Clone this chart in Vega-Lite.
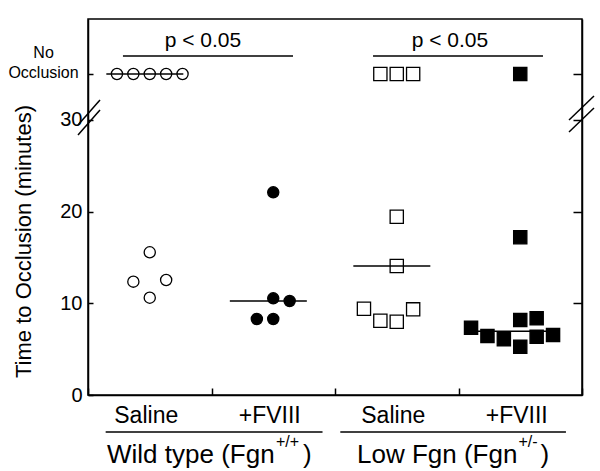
{
  "$schema": "https://vega.github.io/schema/vega-lite/v6.json",
  "width": 494,
  "height": 376,
  "autosize": {"type": "none"},
  "padding": {"left": 88, "top": 19, "right": 18, "bottom": 76},
  "background": "white",
  "config": {
    "view": {"stroke": "black", "strokeWidth": 1.5},
    "font": "Liberation Sans",
    "axis": {"domainColor": "black", "tickColor": "black", "labelColor": "black", "titleColor": "black", "domainWidth": 1.5, "tickWidth": 1.5, "grid": false, "labelFont": "Liberation Sans", "titleFont": "Liberation Sans"},
    "text": {"font": "Liberation Sans", "color": "black"}
  },
  "data": {"values": [
    {"cond": "WT|Saline", "geno": "WT", "treat": "Saline", "value": 35, "slot": -2},
    {"cond": "WT|Saline", "geno": "WT", "treat": "Saline", "value": 35, "slot": -1},
    {"cond": "WT|Saline", "geno": "WT", "treat": "Saline", "value": 35, "slot": 0},
    {"cond": "WT|Saline", "geno": "WT", "treat": "Saline", "value": 35, "slot": 1},
    {"cond": "WT|Saline", "geno": "WT", "treat": "Saline", "value": 35, "slot": 2},
    {"cond": "WT|Saline", "geno": "WT", "treat": "Saline", "value": 15.56, "slot": 0},
    {"cond": "WT|Saline", "geno": "WT", "treat": "Saline", "value": 12.36, "slot": -1},
    {"cond": "WT|Saline", "geno": "WT", "treat": "Saline", "value": 12.54, "slot": 1},
    {"cond": "WT|Saline", "geno": "WT", "treat": "Saline", "value": 10.61, "slot": 0},
    {"cond": "WT|+FVIII", "geno": "WT", "treat": "+FVIII", "value": 22.1, "slot": 0},
    {"cond": "WT|+FVIII", "geno": "WT", "treat": "+FVIII", "value": 10.54, "slot": 0},
    {"cond": "WT|+FVIII", "geno": "WT", "treat": "+FVIII", "value": 10.25, "slot": 1},
    {"cond": "WT|+FVIII", "geno": "WT", "treat": "+FVIII", "value": 8.29, "slot": -1},
    {"cond": "WT|+FVIII", "geno": "WT", "treat": "+FVIII", "value": 8.29, "slot": 0},
    {"cond": "LF|Saline", "geno": "LF", "treat": "Saline", "value": 35, "slot": -1},
    {"cond": "LF|Saline", "geno": "LF", "treat": "Saline", "value": 35, "slot": 0},
    {"cond": "LF|Saline", "geno": "LF", "treat": "Saline", "value": 35, "slot": 1},
    {"cond": "LF|Saline", "geno": "LF", "treat": "Saline", "value": 19.44, "slot": 0},
    {"cond": "LF|Saline", "geno": "LF", "treat": "Saline", "value": 14.07, "slot": 0},
    {"cond": "LF|Saline", "geno": "LF", "treat": "Saline", "value": 9.41, "slot": -2},
    {"cond": "LF|Saline", "geno": "LF", "treat": "Saline", "value": 8.1, "slot": -1},
    {"cond": "LF|Saline", "geno": "LF", "treat": "Saline", "value": 7.99, "slot": 0},
    {"cond": "LF|Saline", "geno": "LF", "treat": "Saline", "value": 9.34, "slot": 1},
    {"cond": "LF|+FVIII", "geno": "LF", "treat": "+FVIII", "value": 35, "slot": 0},
    {"cond": "LF|+FVIII", "geno": "LF", "treat": "+FVIII", "value": 17.2, "slot": 0},
    {"cond": "LF|+FVIII", "geno": "LF", "treat": "+FVIII", "value": 7.34, "slot": -3},
    {"cond": "LF|+FVIII", "geno": "LF", "treat": "+FVIII", "value": 6.43, "slot": -2},
    {"cond": "LF|+FVIII", "geno": "LF", "treat": "+FVIII", "value": 6.07, "slot": -1},
    {"cond": "LF|+FVIII", "geno": "LF", "treat": "+FVIII", "value": 8.18, "slot": 0},
    {"cond": "LF|+FVIII", "geno": "LF", "treat": "+FVIII", "value": 8.36, "slot": 1},
    {"cond": "LF|+FVIII", "geno": "LF", "treat": "+FVIII", "value": 5.27, "slot": 0},
    {"cond": "LF|+FVIII", "geno": "LF", "treat": "+FVIII", "value": 6.36, "slot": 1},
    {"cond": "LF|+FVIII", "geno": "LF", "treat": "+FVIII", "value": 6.54, "slot": 2}
  ]},
  "layer": [
    {
      "layer": [
        {
          "mark": {"type": "point", "stroke": "black", "strokeWidth": 1.3, "opacity": 1},
          "encoding": {
            "x": {"field": "cond", "type": "nominal", "sort": null,
              "scale": {"domain": ["WT|Saline", "WT|+FVIII", "LF|Saline", "LF|+FVIII"], "paddingInner": 0, "paddingOuter": 0},
              "axis": {"title": null, "labelExpr": "split(datum.value,'|')[1]", "tickBand": "extent", "tickSize": -7, "labelPadding": 34, "labelBaseline": "alphabetic", "labelFontSize": 23, "labelOffset": -4, "labelAngle": 0}},
            "xOffset": {"field": "slot", "type": "quantitative", "scale": {"domain": [-3.765, 3.765]}},
            "y": {"field": "value", "type": "quantitative",
              "scale": {"domain": [0, 41], "nice": false, "zero": false},
              "axis": {"values": [0, 10, 20, 30, 35], "labelExpr": "datum.value == 35 ? '' : datum.label", "tickSize": -5, "labelPadding": 11, "labelFontSize": 20,
                "title": "Time to Occlusion (minutes)", "titleFontSize": 22, "titleFontWeight": "normal", "titleX": -58, "titleY": 222, "titleAngle": -90, "titleAlign": "center", "titleBaseline": "alphabetic"}},
            "shape": {"field": "geno", "type": "nominal", "scale": {"domain": ["WT", "LF"], "range": ["circle", "square"]}, "legend": null},
            "fill": {"field": "treat", "type": "nominal", "scale": {"domain": ["Saline", "+FVIII"], "range": ["white", "black"]}, "legend": null},
            "size": {"condition": {"test": "datum.geno == 'WT'", "value": 125}, "value": 175}
          }
        },
        {
          "transform": [{"aggregate": [{"op": "median", "field": "value", "as": "med"}], "groupby": ["cond"]}],
          "mark": {"type": "tick", "size": 77, "thickness": 1.5, "color": "black", "opacity": 1},
          "encoding": {
            "x": {"field": "cond", "type": "nominal", "sort": null},
            "xOffset": {"datum": -0.3},
            "y": {"field": "med", "type": "quantitative", "title": "Time to Occlusion (minutes)"}
          }
        }
      ]
    },
    {
      "data": {"values": [
        {"x1": 0.283, "x2": 1.66, "y": 36.97},
        {"x1": 2.308, "x2": 3.684, "y": 36.97},
        {"x1": 0.143, "x2": 1.899, "y": -4.03},
        {"x1": 2.043, "x2": 3.87, "y": -4.03}
      ]},
      "mark": {"type": "rule", "color": "black", "strokeWidth": 1.5, "clip": false},
      "encoding": {
        "x": {"field": "x1", "type": "quantitative", "scale": {"domain": [0, 4], "nice": false, "zero": false}, "axis": null},
        "x2": {"field": "x2"},
        "y": {"field": "y", "type": "quantitative", "scale": {"domain": [0, 41], "nice": false, "zero": false}, "axis": null}
      }
    },
    {
      "data": {"values": [
        {"x1": -0.081, "x2": 0.097, "y1": 29.44, "y2": 32.17},
        {"x1": -0.081, "x2": 0.097, "y1": 28.35, "y2": 31.08},
        {"x1": 3.895, "x2": 4.097, "y1": 29.99, "y2": 32.61},
        {"x1": 3.895, "x2": 4.097, "y1": 28.68, "y2": 31.3}
      ]},
      "mark": {"type": "rule", "color": "black", "strokeWidth": 1.5, "clip": false},
      "encoding": {
        "x": {"field": "x1", "type": "quantitative", "scale": {"domain": [0, 4], "nice": false, "zero": false}, "axis": null},
        "x2": {"field": "x2"},
        "y": {"field": "y1", "type": "quantitative", "scale": {"domain": [0, 41], "nice": false, "zero": false},
          "axis": {"orient": "right", "values": [10, 20, 30, 35], "labels": false, "tickSize": -9, "title": null, "domain": true}},
        "y2": {"field": "y2"}
      }
    },
    {
      "data": {"values": [
        {"x": 0.931, "y": 37.95, "t": "p < 0.05"},
        {"x": 2.931, "y": 37.95, "t": "p < 0.05"}
      ]},
      "mark": {"type": "text", "fontSize": 21, "align": "center", "baseline": "alphabetic"},
      "encoding": {
        "x": {"field": "x", "type": "quantitative", "scale": {"domain": [0, 4], "nice": false, "zero": false}, "axis": null},
        "y": {"field": "y", "type": "quantitative", "scale": {"domain": [0, 41], "nice": false, "zero": false}, "axis": null},
        "text": {"field": "t"}
      }
    },
    {
      "data": {"values": [
        {"x": -0.36, "y": 37.3, "t": "No"},
        {"x": -0.36, "y": 35.1, "t": "Occlusion"}
      ]},
      "mark": {"type": "text", "fontSize": 16, "align": "center", "baseline": "middle"},
      "encoding": {
        "x": {"field": "x", "type": "quantitative", "scale": {"domain": [0, 4], "nice": false, "zero": false}, "axis": null},
        "y": {"field": "y", "type": "quantitative", "scale": {"domain": [0, 41], "nice": false, "zero": false}, "axis": null},
        "text": {"field": "t"}
      }
    },
    {
      "data": {"values": [
        {"x": 1.511, "y": -7.42, "t": "Wild type (Fgn"},
        {"x": 3.477, "y": -7.42, "t": "Low Fgn (Fgn"}
      ]},
      "mark": {"type": "text", "fontSize": 26, "align": "right", "baseline": "alphabetic"},
      "encoding": {
        "x": {"field": "x", "type": "quantitative", "scale": {"domain": [0, 4], "nice": false, "zero": false}, "axis": null},
        "y": {"field": "y", "type": "quantitative", "scale": {"domain": [0, 41], "nice": false, "zero": false}, "axis": null},
        "text": {"field": "t"}
      }
    },
    {
      "data": {"values": [
        {"x": 1.522, "y": -5.67, "t": "+/+"},
        {"x": 3.485, "y": -5.67, "t": "+/-"}
      ]},
      "mark": {"type": "text", "fontSize": 16, "align": "left", "baseline": "alphabetic"},
      "encoding": {
        "x": {"field": "x", "type": "quantitative", "scale": {"domain": [0, 4], "nice": false, "zero": false}, "axis": null},
        "y": {"field": "y", "type": "quantitative", "scale": {"domain": [0, 41], "nice": false, "zero": false}, "axis": null},
        "text": {"field": "t"}
      }
    },
    {
      "data": {"values": [
        {"x": 1.741, "y": -7.42, "t": ")"},
        {"x": 3.664, "y": -7.42, "t": ")"}
      ]},
      "mark": {"type": "text", "fontSize": 26, "align": "left", "baseline": "alphabetic"},
      "encoding": {
        "x": {"field": "x", "type": "quantitative", "scale": {"domain": [0, 4], "nice": false, "zero": false}, "axis": null},
        "y": {"field": "y", "type": "quantitative", "scale": {"domain": [0, 41], "nice": false, "zero": false}, "axis": null},
        "text": {"field": "t"}
      }
    }
  ],
  "resolve": {"scale": {"x": "independent"}, "axis": {"x": "independent", "y": "independent"}}
}
